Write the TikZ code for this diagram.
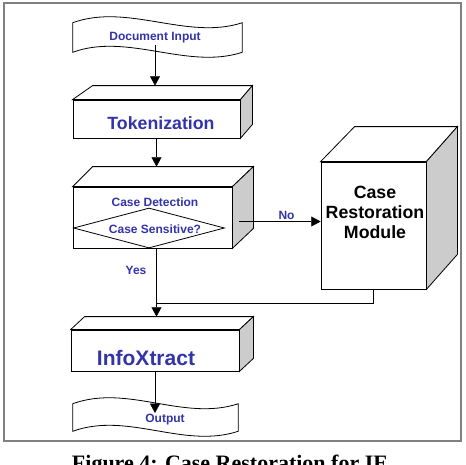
\documentclass[tikz,border=0pt]{standalone}
\usepackage{fontspec}
\setmainfont{Liberation Serif}
\setsansfont{Liberation Sans}
\usepackage{tikz}
\usetikzlibrary{arrows.meta,calc,positioning,shapes.geometric}
\tikzset{>={Triangle[length=7pt,width=7.5pt]}}
\definecolor{lblue}{RGB}{51,51,170}
\definecolor{sideface}{RGB}{204,204,204}
\tikzstyle{outline} = [line width=0.6pt]
\tikzstyle{face} = [draw,outline,fill=white,inner sep=0pt]
\tikzstyle{tapebox} = [inner sep=0pt]
\tikzstyle{lbl} = [font=\sffamily\bfseries\fontsize{9}{11}\selectfont,text=lblue,inner sep=1pt]
\tikzstyle{big} = [font=\sffamily\bfseries\fontsize{13.3}{15}\selectfont,inner sep=0pt]

\begin{document}
\begin{tikzpicture}[x=0.75pt,y=-0.75pt]
    \useasboundingbox (0,0) rectangle (466,464);
    \draw[gray,line width=1.1pt] (4,3) rectangle (461,441);
    % front faces of the boxes
    \node [face,minimum width=125.25pt,minimum height=28.5pt](tok) at (156.5,119) {};
    \node [face,minimum width=119.25pt,minimum height=45.75pt](det) at (152.5,217.5) {};
    \node [face,minimum width=78.75pt,minimum height=95.25pt](crm) at (373.5,225.5) {};
    \node [face,minimum width=126pt,minimum height=30.75pt](ixt) at (155,350.5) {};
    \foreach \n/\dl/\dr/\dh in {tok/20/12/14, det/20/21/20, crm/34/31/35, ixt/14/14/13}
    {
        \draw [outline,fill=white] (\n.north west) -- ++(\dl,-\dh) -- ($(\n.north east)+(\dr,-\dh)$) -- (\n.north east) -- cycle;
        \draw [outline,fill=sideface] (\n.north east) -- ++(\dr,-\dh) -- ($(\n.south east)+(\dr,-\dh)$) -- (\n.south east) -- cycle;
        \coordinate (\n-top) at ($(\n.north)+(0,-\dh)$);
    }
    % input and output tapes
    \node [tapebox,minimum width=126.75pt,minimum height=21.75pt](dintape) at (157.5,37.5) {};
    \node [tapebox,minimum width=123.75pt,minimum height=20.25pt](outtape) at (155.5,417.5) {};
    \foreach \n in {dintape,outtape}
    {
        \draw [outline] (\n.north west) .. controls +(55,-20) and +(-55,18) .. (\n.north east) -- (\n.south east)
            .. controls +(-55,18) and +(55,-20) .. (\n.south west) -- cycle;
    }
    \node [lbl](din) at (155,38) {Document Input};
    \node [lbl](out) at (165,420) {Output};

    \node [big,text=lblue](toktxt) at (161,123) {Tokenization};
    \node [lbl](cd) at (155,202) {Case Detection};
    \node [diamond,draw,outline,aspect=3.775,inner sep=0pt,minimum width=113.25pt,minimum height=30pt](cs) at (149,228) {};
    \node [lbl](cstxt) at (155,229) {Case Sensitive?};
    \node [big,align=center](crmtxt) at (375,212) {Case\\Restoration\\Module};
    \node [big,text=lblue,font=\sffamily\bfseries\fontsize{15.75}{18}\selectfont](ixttxt) at (146,358) {InfoXtract};
    \node [lbl](yes) at (136,270) {Yes};

    \draw [->] (din.south) -- (din.south |- tok-top);
    \draw [->] (tok.south) -- (tok.south |- det-top);
    \coordinate (nostart) at ($(det.east)+(7,4)$);
    \draw [->] (nostart) -- (nostart -| crm.west) node [lbl,pos=0.58,above]{No};
    \draw [->] (tok.south |- cs.south) -- (tok.south |- ixt-top);
    \coordinate (merge) at (tok.south |- 0,303);
    \draw (crm.south) |- (merge);
    \draw [->] (ixt.south) -- (ixt.south |- out.north);

    \node [font=\rmfamily\bfseries\fontsize{16.5}{20}\selectfont,anchor=base](cap) at (230,470) {Figure 4: Case Restoration for IE};
\end{tikzpicture}
\end{document}
